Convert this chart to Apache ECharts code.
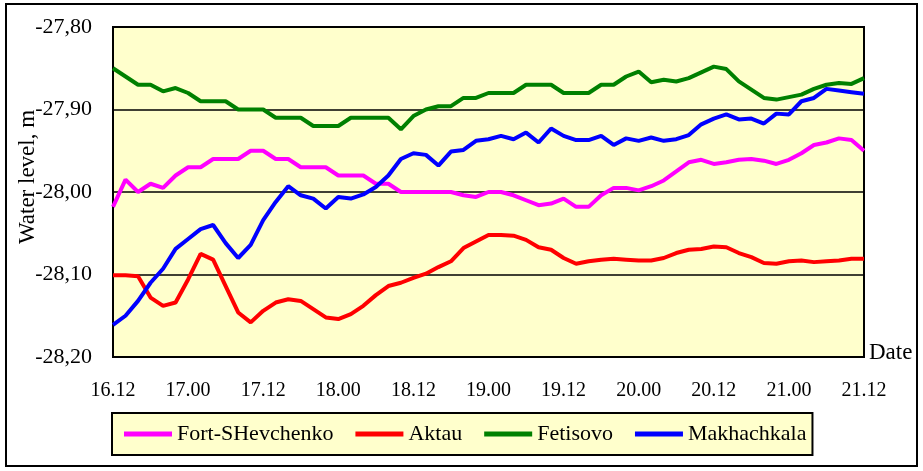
<!DOCTYPE html>
<html>
<head>
<meta charset="utf-8">
<script src="https://cdn.jsdelivr.net/npm/echarts@6/dist/echarts.min.js"></script>
<style>
html,body{margin:0;padding:0;background:#fff;}
#chart{width:923px;height:471px;}
</style>
</head>
<body>
<div id="chart"></div>
<script>
// hours since 16 Dec 12:00
const hours = [0,2,4,6,8,10,12,14,16,18,20,22,24,26,28,30,32,34,36,38,40,42,44,46,48,50,52,54,56,58,60,
  62,64,66,68,70,72,74,76,78,80,82,84,86,88,90,92,94,96,98,100,102,104,106,108,110,112,114,116,118,120];
const tickLabels = ["16.12","17.00","17.12","18.00","18.12","19.00","19.12","20.00","20.12","21.00","21.12"];
const seriesNames = ["Fort-SHevchenko","Aktau","Fetisovo","Makhachkala"];

const fortShevchenko = [-28.018,-27.985,-28.00,-27.99,-27.995,-27.98,-27.97,-27.97,-27.96,-27.96,-27.96,-27.95,-27.95,-27.96,-27.96,-27.97,
  -27.97,-27.97,-27.98,-27.98,-27.98,-27.99,-27.99,-28.00,-28.00,-28.00,-28.00,-28.00,-28.004,-28.006,-28.00,
  -28.00,-28.004,-28.01,-28.016,-28.014,-28.008,-28.018,-28.018,-28.004,-27.995,-27.995,-27.998,-27.993,-27.986,-27.975,
  -27.964,-27.961,-27.966,-27.964,-27.961,-27.96,-27.962,-27.966,-27.961,-27.953,-27.943,-27.94,-27.935,-27.937,-27.95];
const aktau = [-28.101,-28.101,-28.102,-28.128,-28.138,-28.134,-28.106,-28.075,-28.082,-28.114,-28.146,-28.158,-28.144,-28.134,-28.13,-28.132,
  -28.142,-28.152,-28.154,-28.148,-28.138,-28.125,-28.114,-28.11,-28.104,-28.099,-28.091,-28.084,-28.068,-28.06,-28.052,
  -28.052,-28.053,-28.058,-28.067,-28.07,-28.08,-28.087,-28.084,-28.082,-28.081,-28.082,-28.083,-28.083,-28.08,-28.074,
  -28.07,-28.069,-28.066,-28.067,-28.074,-28.079,-28.086,-28.087,-28.084,-28.083,-28.085,-28.084,-28.083,-28.081,-28.081];
const fetisovo = [-27.85,-27.86,-27.87,-27.87,-27.878,-27.874,-27.88,-27.89,-27.89,-27.89,-27.90,-27.90,-27.90,-27.91,-27.91,-27.91,
  -27.92,-27.92,-27.92,-27.91,-27.91,-27.91,-27.91,-27.924,-27.908,-27.90,-27.896,-27.896,-27.886,-27.886,-27.88,
  -27.88,-27.88,-27.87,-27.87,-27.87,-27.88,-27.88,-27.88,-27.87,-27.87,-27.86,-27.854,-27.867,-27.864,-27.866,
  -27.862,-27.855,-27.848,-27.851,-27.866,-27.876,-27.886,-27.888,-27.885,-27.882,-27.875,-27.87,-27.868,-27.869,-27.862];
const makhachkala = [-28.161,-28.15,-28.132,-28.11,-28.093,-28.069,-28.057,-28.045,-28.04,-28.062,-28.08,-28.064,-28.034,-28.012,-27.993,-28.004,
  -28.008,-28.02,-28.006,-28.008,-28.003,-27.994,-27.98,-27.96,-27.953,-27.955,-27.968,-27.951,-27.949,-27.938,-27.936,
  -27.932,-27.936,-27.928,-27.94,-27.923,-27.932,-27.937,-27.937,-27.932,-27.943,-27.935,-27.938,-27.934,-27.938,-27.936,
  -27.931,-27.918,-27.911,-27.906,-27.912,-27.911,-27.917,-27.905,-27.906,-27.89,-27.886,-27.875,-27.877,-27.879,-27.881];

const colors = ["#FF00FF","#FF0000","#008000","#0000FF"];
const allValues = [fortShevchenko, aktau, fetisovo, makhachkala];
const font = "'Liberation Serif', 'Times New Roman', serif";

const chart = echarts.init(document.getElementById('chart'), null, {renderer:'canvas'});
chart.setOption({
  animation: false,
  backgroundColor: '#fff',
  grid: {left:113, top:27, right:59, bottom:114, show:true, backgroundColor:'#FFFFCC', borderColor:'#000', borderWidth:2},
  xAxis: {
    type:'value', min:0, max:120, interval:12,
    axisLine:{show:true, lineStyle:{color:'#000', width:2}},
    axisTick:{show:false},
    splitLine:{show:false},
    axisLabel:{margin:24, color:'#000', fontFamily:font, fontSize:20,
      formatter: v => tickLabels[Math.round(v/12)] || ''}
  },
  yAxis: {
    type:'value', min:-28.2, max:-27.8, interval:0.1,
    axisLine:{show:true, lineStyle:{color:'#000', width:2}},
    axisTick:{show:false},
    splitLine:{show:true, lineStyle:{color:'#000', width:1.5}},
    axisLabel:{margin:21, color:'#000', fontFamily:font, fontSize:22,
      formatter: v => v.toFixed(2).replace('.', ',')}
  },
  legend: {
    left:112, top:413, orient:'horizontal',
    backgroundColor:'#FFFFCC', borderColor:'#000', borderWidth:2,
    padding:[10,6,10,12], itemGap:22, itemWidth:48, itemHeight:5, icon:'rect',
    textStyle:{color:'#000', fontFamily:font, fontSize:22},
    data: seriesNames
  },
  graphic: [
    {type:'rect', shape:{x:6, y:4, width:911, height:462}, style:{fill:'none', stroke:'#000', lineWidth:2}, silent:true},
    {type:'text', x:28, y:177, rotation:Math.PI/2, style:{text:'Water level, m', font:"23px 'Liberation Serif'", fill:'#000', textAlign:'center', textVerticalAlign:'middle'}},
    {type:'text', x:869, y:353, style:{text:'Date', font:"23px 'Liberation Serif'", fill:'#000', textAlign:'left', textVerticalAlign:'middle'}}
  ],
  series: seriesNames.map((n,i) => ({
    name:n, type:'line', showSymbol:false, symbol:'none',
    lineStyle:{color:colors[i], width:4}, itemStyle:{color:colors[i]},
    data: hours.map((h,k) => [h, allValues[i][k]])
  }))
});
</script>
</body>
</html>
